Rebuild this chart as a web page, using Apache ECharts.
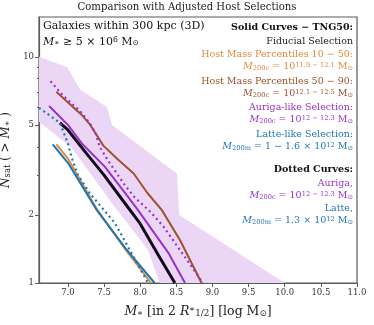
<!DOCTYPE html>
<html>
<head>
<meta charset="utf-8">
<script src="https://cdn.jsdelivr.net/npm/echarts@6/dist/echarts.min.js"></script>
<style>
  html, body { margin: 0; padding: 0; background: #fff; }
  #chart { width: 374px; height: 325px; }
</style>
</head>
<body>
<div id="chart"></div>
<script>
// shaded Auriga range (upper edge left->right, lower edge left->right)
var bandUpX = [6.6, 6.99, 7.17, 7.54, 7.61, 8.51, 8.54, 10.0];
var bandUpY = [10.0, 9.0, 7.15, 6.0, 5.0, 3.04, 2.0, 1.0];
var bandLoX = [6.6, 7.04, 7.65, 8.11, 8.27];
var bandLoY = [5.16, 4.0, 2.17, 1.40, 1.0];

// solid curves
var fidX = [6.89, 7.0, 7.25, 7.5, 7.75, 8.0, 8.25, 8.48];
var fidY = [5.1, 4.75, 3.76, 3.0, 2.34, 1.83, 1.33, 1.0];
var loX = [6.84, 7.0, 7.4, 7.8, 8.15];
var loY = [4.1, 3.55, 2.12, 1.4, 1.0];
var hiX = [6.84, 7.07, 7.2, 7.31, 7.49, 7.7, 7.91, 8.1, 8.3, 8.55, 8.85];
var hiY = [7.0, 6.0, 5.5, 5.0, 4.05, 3.5, 3.05, 2.5, 2.1, 1.55, 1.0];
var aurX = [6.74, 7.0, 7.19, 7.51, 7.83, 7.97, 8.39, 8.62];
var aurY = [6.06, 5.0, 4.15, 3.27, 2.41, 2.1, 1.36, 1.0];
var latX = [6.79, 7.0, 7.4, 7.8, 8.2];
var latY = [4.1, 3.4, 2.1, 1.42, 1.0];

// dotted curves
var aurDotX = [6.76, 6.94, 7.17, 7.3, 7.38, 7.44, 7.55, 7.79, 7.92, 8.15, 8.32, 8.55, 8.87];
var aurDotY = [7.8, 6.7, 5.75, 5.1, 4.6, 4.0, 3.5, 2.7, 2.4, 2.05, 1.78, 1.4, 1.0];
var latDotX = [6.6, 6.75, 6.89, 7.0, 7.05, 7.14, 7.3, 7.65, 7.9, 8.11];
var latDotY = [5.95, 5.5, 5.1, 4.15, 3.6, 3.0, 2.5, 1.84, 1.32, 1.0];

var xTicks = [7.0, 7.5, 8.0, 8.5, 9.0, 9.5, 10.0, 10.5, 11.0];
var yTicks = [1, 2, 5, 10];
var yMinor = [3, 4, 6, 7, 8, 9];

var cOrange = '#e08b3a', cBrown = '#a0522d', cPurple = '#9932cc', cBlue = '#1f77b4';
var FONT = 'DejaVu Serif';

function pairs(xs, ys) {
  var out = [];
  for (var i = 0; i < xs.length; i++) out.push([xs[i], ys[i]]);
  return out;
}

function mathRich(color, size) {
  return {
    n: { fontFamily: FONT, fontSize: size, fill: color, color: color },
    i: { fontFamily: FONT, fontSize: size, fontStyle: 'italic', fill: color, color: color },
    b: { fontFamily: FONT, fontSize: size, fontWeight: 'bold', fill: color, color: color },
    s: { fontFamily: FONT, fontSize: size * 0.7, fill: color, color: color, verticalAlign: 'bottom' },
    p: { fontFamily: FONT, fontSize: size * 0.7, fill: color, color: color, verticalAlign: 'top' }
  };
}

function note(text, y, color, size) {
  return {
    type: 'text', x: 353, y: y, z: 100,
    style: {
      text: text, align: 'right', verticalAlign: 'middle',
      fontFamily: FONT, fontSize: size || 9.5, fill: color,
      rich: mathRich(color, size || 9.5)
    }
  };
}

var chart = echarts.init(document.getElementById('chart'), null, { renderer: 'canvas' });

var lineSeries = function (name, xs, ys, color, width, dotted) {
  return {
    name: name, type: 'line', data: pairs(xs, ys), symbol: 'none',
    lineStyle: { color: color, width: width, type: dotted ? [2, 3.3] : 'solid' },
    z: 3
  };
};

var option = {
  animation: false,
  backgroundColor: '#fff',
  title: {
    text: 'Comparison with Adjusted Host Selections',
    left: 'center', top: 2, padding: 0,
    textStyle: { fontFamily: FONT, fontSize: 10.1, fontWeight: 'normal', color: '#222' }
  },
  grid: {
    left: 39, right: 17, top: 17, bottom: 42, outerBoundsMode: 'none', containLabel: false,
    show: true, borderColor: '#5a5a5a', borderWidth: 1.2, backgroundColor: 'transparent'
  },
  xAxis: {
    type: 'value', min: 6.6, max: 11.0,
    axisLine: { lineStyle: { color: '#5a5a5a', width: 1.2 } },
    axisTick: { customValues: xTicks, length: 4, lineStyle: { color: '#5a5a5a' } },
    axisLabel: {
      customValues: xTicks, fontFamily: FONT, fontSize: 8.5, color: '#333', margin: 5,
      formatter: function (v) { return v.toFixed(1); }
    },
    splitLine: { show: false },
    name: '{i|M}{s|∗}{n| [in 2 }{i|R}{p|∗}{s|1/2}{n|] [log M}{s|⊙}{n|]}',
    nameLocation: 'middle', nameGap: 22,
    nameTextStyle: { rich: mathRich('#222', 12.5) }
  },
  yAxis: [{
    type: 'log', logBase: 10, min: 1, max: 15,
    axisLine: { show: true, lineStyle: { color: '#5a5a5a', width: 1.2 } },
    axisTick: { show: true, customValues: yTicks, length: 4, lineStyle: { color: '#5a5a5a' } },
    axisLabel: { customValues: yTicks, fontFamily: FONT, fontSize: 8.5, color: '#333', margin: 5 },
    splitLine: { show: false },
    name: '{i|N}{s|sat}{n| ( > }{i|M}{s|∗}{n| )}',
    nameLocation: 'middle', nameGap: 23, nameRotate: 90,
    nameTextStyle: { rich: mathRich('#222', 12) }
  }, {
    type: 'log', logBase: 10, min: 1, max: 15, position: 'left',
    axisLine: { show: false },
    axisTick: { show: true, customValues: yMinor, length: 2, lineStyle: { color: '#5a5a5a' } },
    axisLabel: { show: false },
    splitLine: { show: false }
  }],
  graphic: [
    { type: 'text', x: 43, y: 26, style: { text: 'Galaxies within 300 kpc (3D)', verticalAlign: 'middle', fontFamily: FONT, fontSize: 11, fill: '#111' } },
    { type: 'text', x: 43, y: 42, style: { text: '{i|M}{s|∗}{n| ≥ 5 × 10}{p|6}{n| M}{s|⊙}', verticalAlign: 'middle', fontFamily: FONT, fontSize: 11, fill: '#111', rich: mathRich('#111', 11) } },
    note('{b|Solid Curves − TNG50:}', 28, '#111'),
    note('Fiducial Selection', 42, '#222'),
    note('Host Mass Percentiles 10 − 50:', 55, cOrange),
    note('{i|M}{s|200c}{n| = 10}{p|11.9 − 12.1}{n| M}{s|⊙}', 67, cOrange),
    note('Host Mass Percentiles 50 − 90:', 82, cBrown),
    note('{i|M}{s|200c}{n| = 10}{p|12.1 − 12.5}{n| M}{s|⊙}', 94, cBrown),
    note('Auriga-like Selection:', 108, cPurple),
    note('{i|M}{s|200c}{n| = 10}{p|12 − 12.3}{n| M}{s|⊙}', 120, cPurple),
    note('Latte-like Selection:', 135, cBlue),
    note('{i|M}{s|200m}{n| = 1 − 1.6 × 10}{p|12}{n| M}{s|⊙}', 147, cBlue),
    note('{b|Dotted Curves:}', 170, '#111'),
    note('Auriga,', 184, cPurple),
    note('{i|M}{s|200c}{n| = 10}{p|12 − 12.3}{n| M}{s|⊙}', 196, cPurple),
    note('Latte,', 209, cBlue),
    note('{i|M}{s|200m}{n| = 1.3 × 10}{p|12}{n| M}{s|⊙}', 221, cBlue)
  ],
  series: [
    {
      type: 'custom', name: 'band', data: [[0]], z: 1, silent: true,
      renderItem: function (params, api) {
        var pts = [];
        for (var i = 0; i < bandUpX.length; i++) pts.push(api.coord([bandUpX[i], bandUpY[i]]));
        for (var j = bandLoX.length - 1; j >= 0; j--) pts.push(api.coord([bandLoX[j], bandLoY[j]]));
        return { type: 'polygon', shape: { points: pts }, style: { fill: '#ebd6f5' } };
      }
    },
    lineSeries('hi', hiX, hiY, cBrown, 2),
    lineSeries('lo', loX, loY, cOrange, 2),
    lineSeries('lat', latX, latY, cBlue, 2),
    lineSeries('aur', aurX, aurY, cPurple, 2),
    lineSeries('fid', fidX, fidY, '#160b1e', 3),
    lineSeries('aurDot', aurDotX, aurDotY, cPurple, 2.2, true),
    lineSeries('latDot', latDotX, latDotY, cBlue, 2.2, true)
  ]
};

chart.setOption(option);
</script>
</body>
</html>
